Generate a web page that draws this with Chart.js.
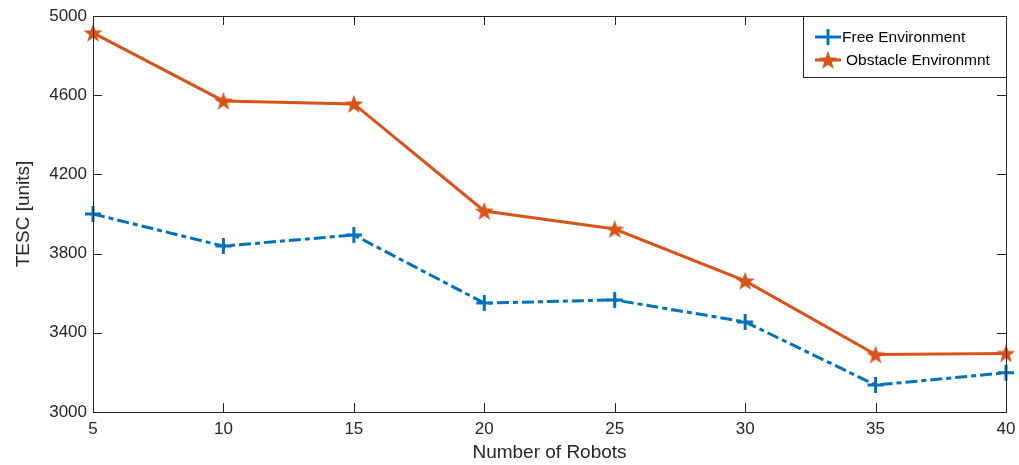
<!DOCTYPE html>
<html>
<head>
<meta charset="utf-8">
<script src="https://cdn.jsdelivr.net/npm/chart.js@4/dist/chart.umd.min.js"></script>
<style>
  html, body { margin: 0; padding: 0; background: #ffffff; }
  #wrap { width: 1019px; height: 465px; position: relative; }
</style>
</head>
<body>
<div id="wrap"><canvas id="c" width="1019" height="465"></canvas></div>
<script>
// Robot counts on the x axis
const robots = [5, 10, 15, 20, 25, 30, 35, 40];
// Total energy/step cost per setting
const freeEnv = [4000, 3838, 3894, 3550, 3566, 3455, 3136, 3198];
const obstacleEnv = [4915, 4571, 4556, 4015, 3924, 3662, 3290, 3296];
// Tick values
const xTicks = [5, 10, 15, 20, 25, 30, 35, 40];
const yTicks = [3000, 3400, 3800, 4200, 4600, 5000];

const BLUE = '#0072BD';
const ORANGE = '#D95319';
const INK = '#262626';
const FONT = '"Liberation Sans", Arial, Helvetica, sans-serif';

// Filled five-point star marker
function makeStar(size, color) {
  const cv = document.createElement('canvas');
  cv.width = size; cv.height = size;
  const g = cv.getContext('2d');
  const cx = size / 2, cy = size / 2 + 0.8;
  const R = size / 2, r = R * 0.40;
  g.beginPath();
  for (let i = 0; i < 10; i++) {
    const rad = -Math.PI / 2 + i * Math.PI / 5;
    const rr = i % 2 === 0 ? R : r;
    const px = cx + rr * Math.cos(rad), py = cy + rr * Math.sin(rad);
    if (i === 0) g.moveTo(px, py); else g.lineTo(px, py);
  }
  g.closePath();
  g.fillStyle = color;
  g.fill();
  return cv;
}
const starImg = makeStar(20, ORANGE);

function pts(ys) { return robots.map((x, i) => ({ x: x, y: ys[i] })); }

// Frame, inward ticks on all four sides, and the legend box
const framePlugin = {
  id: 'frame',
  afterDraw(chart) {
    const { ctx, chartArea: a } = chart;
    const xs = chart.scales.x, ys = chart.scales.y;
    ctx.save();
    ctx.strokeStyle = INK;
    ctx.lineWidth = 1;
    ctx.strokeRect(Math.round(a.left) + 0.5, Math.round(a.top) + 0.5,
                   Math.round(a.right - a.left), Math.round(a.bottom - a.top));
    const TL = 9;
    ctx.beginPath();
    xTicks.forEach(v => {
      const px = Math.round(xs.getPixelForValue(v)) + 0.5;
      ctx.moveTo(px, a.bottom); ctx.lineTo(px, a.bottom - TL);
      ctx.moveTo(px, a.top); ctx.lineTo(px, a.top + TL);
    });
    yTicks.forEach(v => {
      const py = Math.round(ys.getPixelForValue(v)) + 0.5;
      ctx.moveTo(a.left, py); ctx.lineTo(a.left + TL, py);
      ctx.moveTo(a.right, py); ctx.lineTo(a.right - TL, py);
    });
    ctx.stroke();

    // legend
    const bx = 803.5, by = Math.round(a.top) + 0.5;
    const bw = Math.round(a.right) - 803, bh = 61;
    ctx.fillStyle = '#ffffff';
    ctx.fillRect(bx, by, bw, bh);
    ctx.strokeStyle = INK;
    ctx.strokeRect(bx, by, bw, bh);
    ctx.font = '15.5px ' + FONT;
    ctx.textBaseline = 'middle';
    const rows = [
      { ds: chart.data.datasets[0], y: 37, tx: 842 },
      { ds: chart.data.datasets[1], y: 60, tx: 846 }
    ];
    rows.forEach((r, i) => {
      ctx.strokeStyle = r.ds.borderColor;
      ctx.lineWidth = 3;
      ctx.setLineDash([]);
      ctx.beginPath();
      ctx.moveTo(815, r.y); ctx.lineTo(841, r.y);
      ctx.stroke();
      if (i === 0) {
        ctx.beginPath();
        ctx.moveTo(828, r.y - 8); ctx.lineTo(828, r.y + 8);
        ctx.stroke();
      } else {
        ctx.drawImage(starImg, 828 - 10, r.y - 10);
      }
      ctx.fillStyle = '#000000';
      ctx.fillText(r.ds.label, r.tx, r.y + 1);
    });
    ctx.restore();
  }
};

new Chart(document.getElementById('c'), {
  type: 'line',
  data: {
    datasets: [
      {
        label: 'Free Environment',
        data: pts(freeEnv),
        borderColor: BLUE,
        backgroundColor: BLUE,
        borderWidth: 3,
        borderDash: [12, 4, 5, 4],
        borderCapStyle: 'butt',
        pointStyle: 'cross',
        pointRadius: 8,
        pointBorderWidth: 3,
        pointBorderColor: BLUE,
        tension: 0,
        fill: false
      },
      {
        label: 'Obstacle Environmnt',
        data: pts(obstacleEnv),
        borderColor: ORANGE,
        backgroundColor: ORANGE,
        borderWidth: 3,
        pointStyle: starImg,
        pointRadius: 10,
        tension: 0,
        fill: false
      }
    ]
  },
  options: {
    responsive: false,
    animation: false,
    clip: false,
    layout: { padding: { top: 16, right: 12, left: 0, bottom: 0 } },
    plugins: { legend: { display: false }, tooltip: { enabled: false } },
    scales: {
      x: {
        type: 'linear',
        min: 5, max: 40,
        afterBuildTicks(s) { s.ticks = xTicks.map(v => ({ value: v })); },
        afterFit(s) { s.height = 53; s.paddingLeft = 0; s.paddingRight = 0; },
        grid: { display: false, drawTicks: false },
        border: { display: false },
        ticks: { color: INK, font: { family: FONT, size: 17 }, padding: 7, maxRotation: 0 },
        title: {
          display: true, text: 'Number of Robots', color: INK,
          font: { family: FONT, size: 19 }, padding: { top: 0, bottom: 1 }
        }
      },
      y: {
        type: 'linear',
        min: 3000, max: 5000,
        afterBuildTicks(s) { s.ticks = yTicks.map(v => ({ value: v })); },
        afterFit(s) { s.width = 93; s.paddingTop = 0; s.paddingBottom = 0; },
        grid: { display: false, drawTicks: false },
        border: { display: false },
        ticks: {
          color: INK, font: { family: FONT, size: 17 }, padding: 6,
          callback: v => String(v)
        },
        title: {
          display: true, text: 'TESC [units]', color: INK,
          font: { family: FONT, size: 19 }, padding: { top: 12, bottom: 0 }
        }
      }
    }
  },
  plugins: [framePlugin]
});
</script>
</body>
</html>
